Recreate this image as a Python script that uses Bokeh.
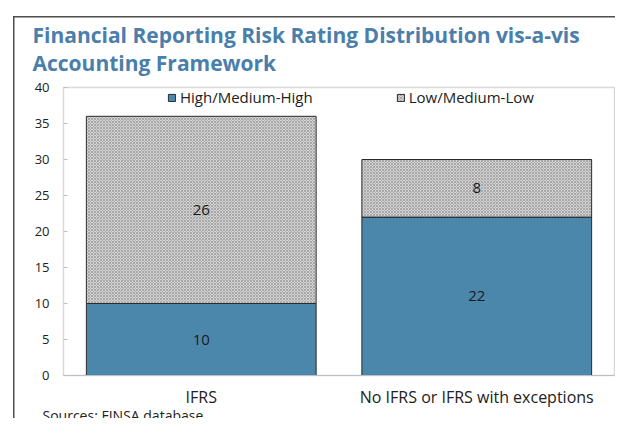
from bokeh.plotting import figure
from bokeh.models import ColumnDataSource, Legend, LegendItem, Title, FixedTicker, Range1d, FactorRange
from bokeh.embed import file_html
from bokeh.resources import INLINE

# ---- data ----
categories = ["IFRS", "No IFRS or IFRS with exceptions"]
high_medium_high = [10, 22]
low_medium_low = [26, 8]
y_ticks = [0, 5, 10, 15, 20, 25, 30, 35, 40]
series_names = ["High/Medium-High", "Low/Medium-Low"]

BLUE = "#4a87ab"
TITLE_BLUE = "#4a7eab"
FONT = "Open Sans"

src = ColumnDataSource(dict(
    cat=categories,
    hi_top=high_medium_high,
    lo_bottom=high_medium_high,
    lo_top=[h + l for h, l in zip(high_medium_high, low_medium_low)],
    hi_mid=[h / 2 for h in high_medium_high],
    lo_mid=[h + l / 2 for h, l in zip(high_medium_high, low_medium_low)],
    hi_txt=[str(v) for v in high_medium_high],
    lo_txt=[str(v) for v in low_medium_low],
))

p = figure(x_range=FactorRange(*categories), y_range=Range1d(0, 40),
           width=615, height=418, output_backend="svg", toolbar_location=None,
           min_border_left=63, min_border_right=1, min_border_top=87, min_border_bottom=43)
p.border_fill_alpha = 0
p.styles = {"background": ("linear-gradient(#4d4d4d,#4d4d4d) 13px 16px / 100% 1.5px no-repeat, "
                           "linear-gradient(#4d4d4d,#4d4d4d) 13px 16px / 1.5px 100% no-repeat, white")}

r_hi = p.vbar(x="cat", bottom=0, top="hi_top", width=0.834, source=src,
              fill_color=BLUE, line_color="#2b2b2b", line_width=1)
r_lo = p.vbar(x="cat", bottom="lo_bottom", top="lo_top", width=0.834, source=src,
              fill_color="#d4d4d4", hatch_pattern="diagonal_cross", hatch_color="#8a8a8a",
              hatch_scale=3, hatch_weight=0.6, line_color="#2b2b2b", line_width=1)

p.text(x="cat", y="hi_mid", text="hi_txt", source=src, text_align="center",
       text_baseline="middle", text_font_size="15px", text_color="#1a1a1a", text_font={"value": FONT})
p.text(x="cat", y="lo_mid", text="lo_txt", source=src, text_align="center",
       text_baseline="middle", text_font_size="15px", text_color="#1a1a1a", text_font={"value": FONT})

# title
p.title = Title(text="Financial Reporting Risk Rating Distribution vis-a-vis\nAccounting Framework",
                text_font=FONT, text_font_size="21px", text_font_style="bold",
                text_color=TITLE_BLUE, align="left", offset=-31, standoff=22)

# source note
p.add_layout(Title(text="Sources: FINSA database", text_font=FONT, text_font_size="14px",
                   text_font_style="normal", text_color="#222222", align="left",
                   offset=-21, standoff=-14), "below")

# axes
p.yaxis.ticker = FixedTicker(ticks=y_ticks)
p.yaxis.axis_line_color = None
p.yaxis.major_tick_in = 4
p.yaxis.major_tick_out = 0
p.yaxis.major_tick_line_color = "#bfbfbf"
p.yaxis.minor_tick_line_color = None
p.yaxis.major_label_standoff = 14
p.yaxis.major_label_text_font = FONT
p.yaxis.major_label_text_font_size = "13px"
p.yaxis.major_label_text_color = "#222222"

p.xaxis.axis_line_color = "#bfbfbf"
p.xaxis.major_tick_line_color = None
p.xaxis.major_label_standoff = 4
p.xaxis.major_label_text_font = FONT
p.xaxis.major_label_text_font_size = "16px"
p.xaxis.major_label_text_color = "#222222"

p.grid.grid_line_color = None
p.outline_line_color = "#d9d9d9"
p.outline_line_width = 1.5
p.background_fill_color = "white"

legend = Legend(items=[LegendItem(label=series_names[0], renderers=[r_hi]),
                       LegendItem(label=series_names[1], renderers=[r_lo])],
                orientation="horizontal", location=(104, 268), spacing=83,
                glyph_width=9, glyph_height=9, label_standoff=4, padding=0, margin=0,
                label_height=18,
                label_text_font=FONT, label_text_font_size="15px", label_text_color="#222222",
                border_line_color=None, background_fill_alpha=0)
p.add_layout(legend, "center")

open("out.html", "w").write(file_html(p, INLINE))
